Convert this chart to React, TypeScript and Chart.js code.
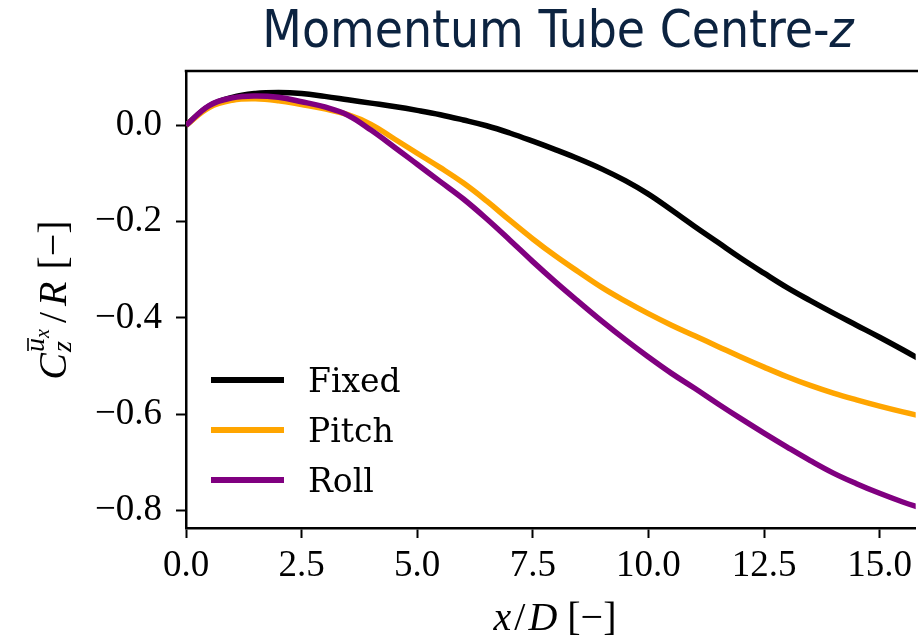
import React, { useEffect, useRef } from "react";
import { Chart, registerables } from "chart.js";

Chart.register(...registerables);

const xValues = [0, 0.5, 1, 1.5, 2, 2.5, 3, 3.5, 4, 4.5, 5, 5.5, 6, 6.5, 7, 7.5, 8, 8.5, 9, 9.5, 10, 10.5, 11, 11.5, 12, 12.5, 13, 13.5, 14, 14.5, 15, 15.5, 16];
const fixedValues = [0, 0.040, 0.058, 0.066, 0.068, 0.066, 0.060, 0.053, 0.046, 0.039, 0.031, 0.022, 0.011, -0.001, -0.016, -0.033, -0.051, -0.070, -0.091, -0.115, -0.143, -0.176, -0.210, -0.243, -0.276, -0.307, -0.337, -0.364, -0.390, -0.415, -0.440, -0.466, -0.493];
const pitchValues = [0, 0.037, 0.052, 0.055, 0.051, 0.043, 0.034, 0.022, 0.002, -0.028, -0.058, -0.088, -0.120, -0.157, -0.197, -0.236, -0.272, -0.305, -0.337, -0.365, -0.391, -0.415, -0.437, -0.459, -0.481, -0.502, -0.522, -0.540, -0.556, -0.570, -0.583, -0.595, -0.606];
const rollValues = [0, 0.041, 0.057, 0.061, 0.058, 0.049, 0.038, 0.021, -0.010, -0.045, -0.081, -0.117, -0.153, -0.194, -0.238, -0.283, -0.326, -0.367, -0.407, -0.445, -0.481, -0.515, -0.546, -0.578, -0.609, -0.639, -0.668, -0.696, -0.722, -0.744, -0.764, -0.782, -0.798];

const seriesNames = ["Fixed", "Pitch", "Roll"];
const seriesColors = ["#000000", "#FFA500", "#800080"];
const titleText = "Momentum Tube Centre-";
const titleItalic = "z";

const X_MIN = 0;
const X_MAX = 15.78;
const Y_MIN = -0.836;
const Y_MAX = 0.1127;

const SERIF = "'Liberation Serif', 'Times New Roman', serif";
const TITLE_FONT = "'DejaVu Sans Condensed', 'DejaVu Sans', sans-serif";

const decorPlugin = {
  id: "decor",
  afterDraw(chart: any) {
    const ctx = chart.ctx as CanvasRenderingContext2D;
    const area = chart.chartArea;
    ctx.save();
    // top spine
    ctx.strokeStyle = "#000";
    ctx.lineWidth = 2.5;
    ctx.beginPath();
    ctx.moveTo(area.left - 1.25, area.top);
    ctx.lineTo(chart.width, area.top);
    ctx.stroke();

    // title
    ctx.fillStyle = "#0c2340";
    ctx.textBaseline = "alphabetic";
    ctx.textAlign = "left";
    ctx.font = "51px " + TITLE_FONT;
    const w1 = ctx.measureText(titleText).width;
    ctx.font = "italic 51px " + TITLE_FONT;
    const w2 = ctx.measureText(titleItalic).width;
    const tx = 558 - (w1 + w2) / 2;
    ctx.font = "51px " + TITLE_FONT;
    ctx.fillText(titleText, tx, 47);
    ctx.font = "italic 51px " + TITLE_FONT;
    ctx.fillText(titleItalic, tx + w1, 47);

    // legend
    ctx.font = "33px 'DejaVu Serif', serif";
    seriesNames.forEach((name, i) => {
      const ly = 380 + i * 50;
      ctx.strokeStyle = seriesColors[i];
      ctx.lineWidth = 6;
      ctx.lineCap = "butt";
      ctx.beginPath();
      ctx.moveTo(211, ly);
      ctx.lineTo(284, ly);
      ctx.stroke();
      ctx.fillStyle = "#000";
      ctx.fillText(name, 308, ly + 12);
    });

    // x-axis label: x/D [−]
    ctx.fillStyle = "#000";
    const parts: [string, string, number][] = [
      ["x", "italic 40px " + SERIF, 3],
      ["/", "40px " + SERIF, 3],
      ["D", "italic 40px " + SERIF, 10],
      ["[\u2212]", "40px " + SERIF, 0],
    ];
    let total = 0;
    parts.forEach(([t, f, g]) => {
      ctx.font = f;
      total += ctx.measureText(t).width + g;
    });
    let cx = 555 - total / 2;
    parts.forEach(([t, f, g]) => {
      ctx.font = f;
      ctx.fillText(t, cx, 630);
      cx += ctx.measureText(t).width + g;
    });

    // y-axis label: C_z^{ū_x} / R [−]
    ctx.save();
    ctx.translate(66, 300);
    ctx.rotate(-Math.PI / 2);
    const big = "italic 40px " + SERIF;
    const up = "40px " + SERIF;
    const mid = "italic 28px " + SERIF;
    const small = "italic 20px " + SERIF;
    ctx.font = big;
    const wC = ctx.measureText("C").width;
    const wR = ctx.measureText("R").width;
    ctx.font = mid;
    const wu = ctx.measureText("u").width;
    const wz = ctx.measureText("z").width;
    ctx.font = small;
    const wx = ctx.measureText("x").width;
    const stackW = Math.max(wu + wx, wz) + 2;
    ctx.font = up;
    const wSlash = ctx.measureText("/").width;
    const wBr = ctx.measureText("[\u2212]").width;
    const g1 = 5, g2 = 6, g3 = 12;
    const tot = wC + stackW + g1 + wSlash + g2 + wR + g3 + wBr;
    let px = -tot / 2;
    ctx.font = big;
    ctx.fillText("C", px, 0);
    px += wC;
    ctx.font = mid;
    ctx.fillText("u", px + 1, -22);
    ctx.lineWidth = 1.6;
    ctx.strokeStyle = "#000";
    ctx.beginPath();
    ctx.moveTo(px + 2, -38);
    ctx.lineTo(px + 1 + wu, -38);
    ctx.stroke();
    ctx.font = small;
    ctx.fillText("x", px + 1 + wu, -17);
    ctx.font = mid;
    ctx.fillText("z", px + 1, 5);
    px += stackW + g1;
    ctx.font = up;
    ctx.fillText("/", px, 0);
    px += wSlash + g2;
    ctx.font = big;
    ctx.fillText("R", px, 0);
    px += wR + g3;
    ctx.font = up;
    ctx.fillText("[\u2212]", px, 0);
    ctx.restore();

    ctx.restore();
  },
};

function fmt(v: number) {
  const s = Math.abs(v).toFixed(1);
  return (v < -1e-9 ? "\u2212" : "") + s;
}

export default function App() {
  const ref = useRef<HTMLCanvasElement | null>(null);
  useEffect(() => {
    if (!ref.current) return;
    const mk = (vals: number[]) => xValues.map((x, i) => ({ x, y: vals[i] }));
    const allVals = [fixedValues, pitchValues, rollValues];
    const chart = new Chart(ref.current, {
      type: "line",
      data: {
        datasets: seriesNames.map((name, i) => ({
          label: name,
          data: mk(allVals[i]),
          borderColor: seriesColors[i],
          backgroundColor: seriesColors[i],
          borderWidth: 5.5,
          pointRadius: 0,
          tension: 0.4,
          fill: false,
          order: 2 - i,
        })),
      },
      options: {
        animation: false,
        responsive: false,
        devicePixelRatio: 1,
        layout: { padding: { top: 71, left: 0, right: 0, bottom: 0 } },
        plugins: {
          legend: { display: false },
          title: { display: false },
          tooltip: { enabled: false },
        },
        scales: {
          x: {
            type: "linear",
            min: X_MIN,
            max: X_MAX,
            afterFit: (s: any) => {
              s.height = 112;
            },
            ticks: {
              stepSize: 2.5,
              includeBounds: false,
              autoSkip: false,
              maxRotation: 0,
              padding: 6,
              color: "#000",
              font: { family: SERIF, size: 37 },
              callback: (v: any) => fmt(Number(v)),
            },
            grid: {
              drawOnChartArea: false,
              drawTicks: true,
              tickLength: 10,
              tickWidth: 2,
              color: "#000",
            },
            border: { display: true, color: "#000", width: 2.5 },
          },
          y: {
            type: "linear",
            min: Y_MIN,
            max: Y_MAX,
            afterFit: (s: any) => {
              s.width = 186;
            },
            ticks: {
              stepSize: 0.2,
              includeBounds: false,
              autoSkip: false,
              padding: 14,
              color: "#000",
              font: { family: SERIF, size: 37 },
              callback: (v: any) => fmt(Number(v)),
            },
            grid: {
              drawOnChartArea: false,
              drawTicks: true,
              tickLength: 10,
              tickWidth: 2,
              color: "#000",
            },
            border: { display: true, color: "#000", width: 2.5 },
          },
        },
      },
      plugins: [decorPlugin],
    } as any);
    return () => chart.destroy();
  }, []);
  return (
    <div style={{ position: "fixed", left: 0, top: 0, width: 918, height: 640, background: "#fff" }}>
      <canvas ref={ref} width={918} height={640} style={{ width: 918, height: 640, display: "block" }} />
    </div>
  );
}
